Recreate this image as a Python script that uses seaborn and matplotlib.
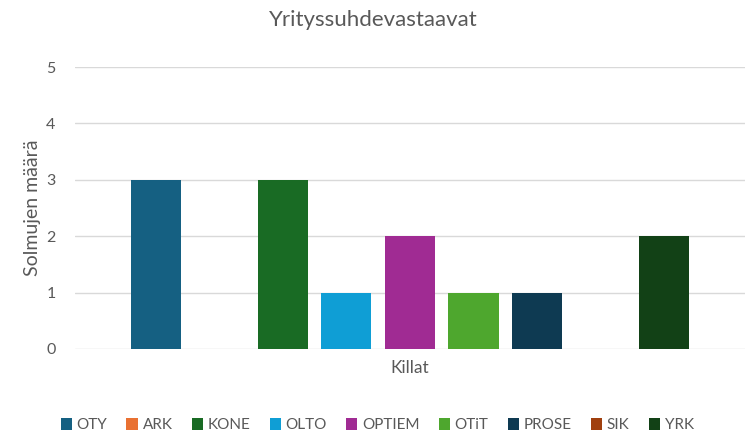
import matplotlib
matplotlib.use("Agg")
import matplotlib.pyplot as plt
import pandas as pd
import seaborn as sns

# data
guilds = ["OTY", "ARK", "KONE", "OLTO", "OPTIEM", "OTiT", "PROSE", "SIK", "YRK"]
counts = [3, 0, 3, 1, 2, 1, 1, 0, 2]
colors = ["#156082", "#E97132", "#196B24", "#0F9ED5", "#A02B93",
          "#4EA72E", "#0E3A52", "#A0400F", "#124116"]
category = "Killat"

df = pd.DataFrame({"cat": [category] * len(guilds), "kilta": guilds, "n": counts})

sns.set_style("white")
plt.rcParams["font.family"] = ["Lato", "DejaVu Sans"]
grey = "#595959"

fig = plt.figure(figsize=(7.47, 4.34), dpi=100)
ax = fig.add_axes([0.1004, 0.196, 0.8966, 0.6496])

sns.barplot(data=df, x="cat", y="n", hue="kilta", hue_order=guilds,
            palette=colors, saturation=1, width=0.854, gap=0.21, linewidth=0,
            errorbar=None, ax=ax, legend=True)

ax.set_ylim(0, 5)
ax.set_yticks(range(0, 6))
ax.yaxis.grid(True, color="#D9D9D9", linewidth=1)
ax.set_axisbelow(True)
for s in ax.spines.values():
    s.set_visible(False)
ax.tick_params(axis="both", length=0, colors=grey, labelsize=11.5, pad=8)
ax.tick_params(axis="y", pad=14)
ax.set_xlabel("")
ax.set_ylabel("Solmujen määrä", fontsize=14, color=grey, labelpad=4)
for lbl in ax.get_xticklabels():
    lbl.set_fontsize(12.5)
    lbl.set_color(grey)

fig.suptitle("Yrityssuhdevastaavat", fontsize=16, color=grey, y=0.978)

handles, labels = ax.get_legend_handles_labels()
ax.get_legend().remove()
fig.legend(handles, labels, loc="center", bbox_to_anchor=(0.505, 0.02),
           ncol=len(guilds), frameon=False, fontsize=11,
           handlelength=0.75, handleheight=0.75, handletextpad=0.3,
           columnspacing=1.25, labelcolor=grey)

fig.savefig("out.png", dpi=100)
plt.close(fig)
